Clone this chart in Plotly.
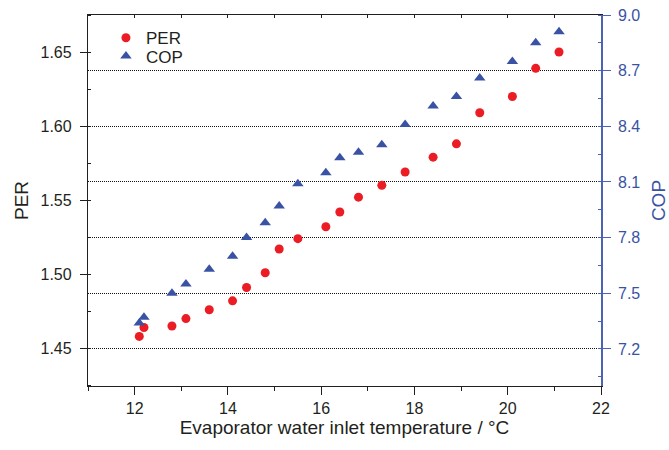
import plotly.graph_objects as go

# Evaporator water inlet temperature (°C)
temperature = [12.1, 12.2, 12.8, 13.1, 13.6, 14.1, 14.4, 14.8, 15.1, 15.5, 16.1,
               16.4, 16.8, 17.3, 17.8, 18.4, 18.9, 19.4, 20.1, 20.6, 21.1]

# Primary energy ratio
per = [1.458, 1.464, 1.465, 1.470, 1.476, 1.482, 1.491, 1.501, 1.517, 1.524, 1.532,
       1.542, 1.552, 1.560, 1.569, 1.579, 1.588, 1.609, 1.620, 1.639, 1.650]

# Coefficient of performance
cop = [7.34, 7.37, 7.50, 7.55, 7.63, 7.70, 7.80, 7.88, 7.97, 8.09, 8.15,
       8.23, 8.26, 8.30, 8.41, 8.51, 8.56, 8.66, 8.75, 8.85, 8.91]

x_ticks = [12, 14, 16, 18, 20, 22]
per_ticks = [1.45, 1.50, 1.55, 1.60, 1.65]
cop_ticks = [7.2, 7.5, 7.8, 8.1, 8.4, 8.7, 9.0]

RED = "#ec1c24"
BLUE = "#3a52a4"
AXIS_BLUE = "#4a63b4"
INK = "#231f20"
FONT = "Arial, Liberation Sans, sans-serif"

fig = go.Figure()

fig.add_trace(go.Scatter(
    x=temperature, y=per, mode="markers", name="PER",
    marker=dict(symbol="circle", size=9, color=RED),
    legend="legend",
))
fig.add_trace(go.Scatter(
    x=temperature, y=cop, mode="markers", name="COP", yaxis="y2",
    marker=dict(symbol="triangle-up", size=10, color=BLUE),
    legend="legend2",
))
# carrier for the top frame axis
fig.add_trace(go.Scatter(x=[11, 22], y=[1.5, 1.5], xaxis="x2", mode="markers",
                         marker=dict(opacity=0), showlegend=False, hoverinfo="skip"))

fig.update_layout(
    width=669, height=450,
    margin=dict(l=88, r=68, t=15, b=64),
    paper_bgcolor="white", plot_bgcolor="white",
    font=dict(family=FONT, size=16, color=INK),
    showlegend=True,
    legend=dict(x=0.035, y=0.986, xanchor="left", yanchor="top",
                bgcolor="rgba(0,0,0,0)", font=dict(size=17),
                itemwidth=30, tracegroupgap=0),
    legend2=dict(x=0.035, y=0.937, xanchor="left", yanchor="top",
                 bgcolor="rgba(0,0,0,0)", font=dict(size=17),
                 itemwidth=30, tracegroupgap=0),
    xaxis=dict(
        range=[11, 22], tickmode="array", tickvals=x_ticks, automargin=False,
        ticks="outside", ticklen=8, tickwidth=1.2, tickcolor=INK,
        minor=dict(dtick=1, tick0=11, ticks="outside", ticklen=4,
                   tickwidth=1, tickcolor=INK),
        showline=True, linecolor=INK, linewidth=1.3,
        showgrid=False, zeroline=False,
        title=dict(text="Evaporator water inlet temperature / °C", standoff=0),
    ),
    xaxis2=dict(
        range=[11, 22], overlaying="x", side="top", anchor="y", automargin=False,
        tickmode="linear", tick0=11, dtick=1,
        ticks="inside", ticklen=3, tickwidth=1, tickcolor=INK,
        showticklabels=False, showline=True, linecolor=INK,
        linewidth=1.3, showgrid=False, zeroline=False,
    ),
    yaxis=dict(
        range=[1.4245, 1.675], tickmode="array", tickvals=per_ticks,
        tickformat=".2f", ticklabelstandoff=5, automargin=False,
        ticks="outside", ticklen=7, tickwidth=1.2, tickcolor=INK,
        minor=dict(dtick=0.025, tick0=1.425, ticks="inside", ticklen=3,
                   tickwidth=1, tickcolor=INK),
        showline=True, linecolor=INK, linewidth=1.3,
        showgrid=False, zeroline=False,
        title=dict(text="PER", standoff=6),
    ),
    yaxis2=dict(
        range=[7.0, 9.0], overlaying="y", side="right", anchor="x",
        tickmode="array", tickvals=cop_ticks, tickformat=".1f",
        ticklabelstandoff=4, automargin=False,
        ticks="outside", ticklen=8, tickwidth=1.2, tickcolor=AXIS_BLUE,
        minor=dict(dtick=0.15, tick0=7.05, ticks="inside", ticklen=3,
                   tickwidth=1, tickcolor=AXIS_BLUE),
        showline=True, linecolor=AXIS_BLUE, linewidth=1.6,
        tickfont=dict(color=BLUE),
        showgrid=True, gridcolor="#111111", gridwidth=1, griddash="1px,1px",
        zeroline=False,
        title=dict(text="COP", font=dict(color=BLUE), standoff=16),
    ),
)

fig.write_html("out.html")
